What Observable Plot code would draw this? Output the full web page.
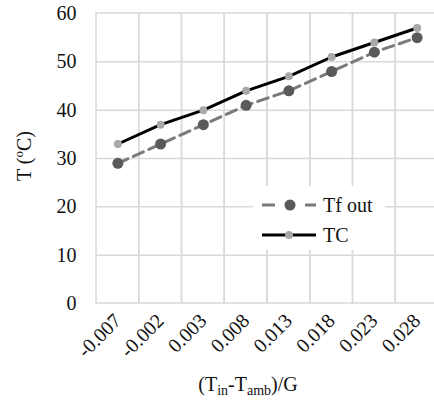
<!DOCTYPE html>
<html>
<head>
<meta charset="utf-8">
<script src="https://cdn.jsdelivr.net/npm/d3@7"></script>
<script src="https://cdn.jsdelivr.net/npm/@observablehq/plot@0.6"></script>
<style>
  html, body { margin: 0; padding: 0; background: #fff; overflow: hidden; }
  #chart { width: 434px; height: 405px; overflow: hidden; }
</style>
</head>
<body>
<div id="chart"></div>
<script>
// Reduced temperature parameter (Tin - Tamb)/G on the category axis
const categories = ["-0.007", "-0.002", "0.003", "0.008", "0.013", "0.018", "0.023", "0.028"];
// Fluid outlet temperature and collector temperature, °C
const tfOut = [29, 33, 37, 41, 44, 48, 52, 55];
const tc = [33, 37, 40, 44, 47, 51, 54, 57];
const yTicks = [0, 10, 20, 30, 40, 50, 60];
const seriesNames = ["Tf out", "TC"];

const rowsTf = categories.map((c, i) => ({cat: c, value: tfOut[i]}));
const rowsTc = categories.map((c, i) => ({cat: c, value: tc[i]}));

const font = "Liberation Serif, Times New Roman, serif";
const gridColor = "#d9d9d9";
const tfLine = "#7a7a7a";
const tfDot = "#5a5a5a";
const tcLine = "#000000";
const tcDot = "#a8a8a8";

const plot = Plot.plot({
  width: 434,
  height: 405,
  marginLeft: 96,
  marginRight: -4,
  marginTop: 13,
  marginBottom: 102,
  style: {fontFamily: font, fontSize: "20px", color: "#111", background: "#fff"},
  x: {type: "band", domain: categories, padding: 0, round: false, label: null,
      tickSize: 0, tickPadding: 14, tickRotate: -45},
  y: {domain: [yTicks[0], yTicks[yTicks.length - 1]], ticks: yTicks, label: null,
      tickSize: 0, tickPadding: 20},
  marks: [
    // cell outlines give the vertical gridlines between categories plus top/bottom edges
    Plot.barY(categories, {x: d => d, y1: yTicks[0], y2: yTicks[yTicks.length - 1],
      fill: "none", stroke: gridColor, strokeWidth: 1.5}),
    Plot.ruleY(yTicks.slice(1, -1), {stroke: gridColor, strokeWidth: 1.5}),
    Plot.line(rowsTf, {x: "cat", y: "value", stroke: tfLine, strokeWidth: 3,
      strokeDasharray: "11,6"}),
    Plot.dot(rowsTf, {x: "cat", y: "value", r: 5.5, fill: tfDot, stroke: "none"}),
    Plot.line(rowsTc, {x: "cat", y: "value", stroke: tcLine, strokeWidth: 3}),
    Plot.dot(rowsTc, {x: "cat", y: "value", r: 4, fill: tcDot, stroke: "none"})
  ]
});

const svg = d3.select(plot);

// Legend box inside the plot area
const lg = svg.append("g").attr("font-family", font).attr("font-size", 20)
  .attr("fill", "#111").attr("text-anchor", "start");
lg.append("rect").attr("x", 253).attr("y", 186).attr("width", 132).attr("height", 64).attr("fill", "#fff");
// row 1: dashed gray line with dark marker
lg.append("line").attr("x1", 262).attr("x2", 275).attr("y1", 205).attr("y2", 205)
  .attr("stroke", tfLine).attr("stroke-width", 3);
lg.append("line").attr("x1", 305).attr("x2", 316).attr("y1", 205).attr("y2", 205)
  .attr("stroke", tfLine).attr("stroke-width", 3);
lg.append("circle").attr("cx", 290).attr("cy", 205).attr("r", 5.5).attr("fill", tfDot);
lg.append("text").attr("x", 323).attr("y", 212).text(seriesNames[0]);
// row 2: solid black line with light marker
lg.append("line").attr("x1", 262).attr("x2", 316).attr("y1", 235).attr("y2", 235)
  .attr("stroke", tcLine).attr("stroke-width", 3);
lg.append("circle").attr("cx", 289).attr("cy", 235).attr("r", 4).attr("fill", tcDot);
lg.append("text").attr("x", 323).attr("y", 242).text(seriesNames[1]);

// Y axis title with superscript degree mark
const yt = svg.append("text")
  .attr("font-family", font).attr("font-size", 20).attr("fill", "#111")
  .attr("text-anchor", "middle")
  .attr("transform", "translate(31,156) rotate(-90)");
yt.append("tspan").text("T (");
yt.append("tspan").attr("font-size", 13).attr("dy", -8).text("o");
yt.append("tspan").attr("dy", 8).text("C)");

// X axis title with subscripts
const xt = svg.append("text")
  .attr("font-family", font).attr("font-size", 20).attr("fill", "#111")
  .attr("text-anchor", "middle")
  .attr("transform", "translate(248,391)");
xt.append("tspan").text("(T");
xt.append("tspan").attr("font-size", 14).attr("dy", 4).text("in");
xt.append("tspan").attr("dy", -4).text("-T");
xt.append("tspan").attr("font-size", 14).attr("dy", 4).text("amb");
xt.append("tspan").attr("dy", -4).text(")/G");

document.getElementById("chart").appendChild(plot);
</script>
</body>
</html>
